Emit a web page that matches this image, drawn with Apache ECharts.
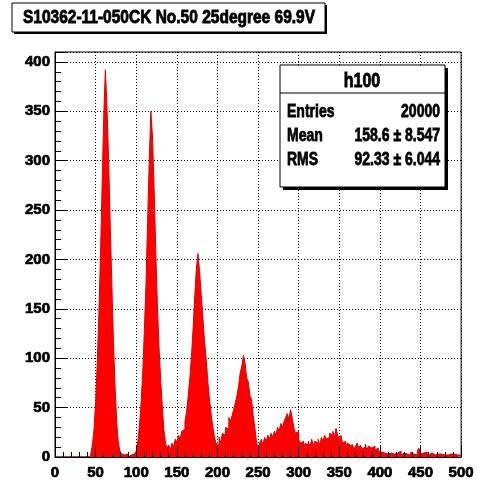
<!DOCTYPE html>
<html>
<head>
<meta charset="utf-8">
<script src="https://cdn.jsdelivr.net/npm/echarts@6/dist/echarts.min.js"></script>
<style>html,body{margin:0;padding:0;background:#fff}#c{width:477px;height:484px}</style>
</head>
<body>
<div id="c"></div>
<script>
// ---- data ----
const titleText = 'S10362-11-050CK No.50 25degree 69.9V';
const histName = 'h100';
const statLabels = ['Entries', 'Mean', 'RMS'];
const statValues = ['20000', '158.6 \u00b1 8.547', '92.33 \u00b1 6.044'];
const binWidth = 2;
const xMin = 0, xMax = 500, yMax = 410;
const xTicks = [0, 50, 100, 150, 200, 250, 300, 350, 400, 450, 500];
const yTicks = [0, 50, 100, 150, 200, 250, 300, 350, 400];
// counts per bin of width 2, starting at 0
const counts = [
  0,0,0,0,0,0,0,0,0,0, 0,0,0,0,0,0,0,0,0,0, 0,0,            // 0-42
  3,12,28,55,95,145,205,275,345,392,                        // 44-62
  355,300,235,175,115,70,35,14,6,3,                         // 64-82
  2,1,3,0,2,1,3,2,                                          // 84-98
  6,16,32,55,85,128,175,238,300,350,                        // 100-118
  325,272,210,155,112,80,52,28,14,9,                        // 120-138
  12,7,14,10,18,15,22,18,26,28,                             // 140-158
  36,46,62,80,102,130,162,190,206,188,                      // 160-178
  165,142,118,100,78,60,45,32,22,14,                        // 180-198
  12,20,14,24,22,30,28,40,36,42,                            // 200-218
  48,55,62,72,85,92,103,95,80,76,                           // 220-238
  62,58,42,30,16,8,14,18,12,20,                             // 240-258
  16,22,18,24,20,26,22,30,26,34,                            // 260-278
  30,36,40,44,38,48,40,30,24,26,                            // 280-298
  18,14,16,10,14,12,16,10,18,12,                            // 300-318
  16,14,18,12,20,16,22,18,20,24,                            // 320-338
  22,26,20,29,22,18,22,14,16,10,                            // 340-358
  14,12,9,13,8,11,14,9,12,8,                                // 360-378
  10,13,7,11,9,8,11,7,9,6,                                  // 380-398
  5,7,4,6,3,5,4,6,3,5,                                      // 400-418
  4,3,6,2,4,5,3,4,2,5,                                      // 420-438
  3,4,2,6,9,3,4,2,5,3,                                      // 440-458
  2,4,3,2,4,3,2,3,4,2,                                      // 460-478
  3,2,4,3,2,3,4,2,3,2                                       // 480-498
];

const stepData = counts.map((c, i) => [xMin + i * binWidth, c]);
stepData.push([xMin + counts.length * binWidth, counts[counts.length - 1]]);

const FONT = '"Liberation Sans", Arial, Helvetica, sans-serif';
const chart = echarts.init(document.getElementById('c'), null, {renderer: 'canvas'});

const gridLeft = 55, gridTop = 52, gridRight = 13, gridBottom = 27;
const heavy = {textBorderColor: '#000', textBorderWidth: 0.7};

const option = {
  backgroundColor: '#fff',
  animation: false,
  grid: {left: gridLeft, right: gridRight, top: gridTop, bottom: gridBottom,
         show: true, borderColor: '#000', borderWidth: 1, backgroundColor: '#fff'},
  xAxis: [
    {type: 'value', min: xMin, max: xMax, interval: 50, z: 10,
     axisLine: {show: true, lineStyle: {color: '#000', width: 1}},
     axisTick: {show: true, inside: true, length: 11, lineStyle: {color: '#000'}},
     minorTick: {show: true, splitNumber: 5, length: 5, lineStyle: {color: '#000'}},
     splitLine: {show: false},
     axisLabel: Object.assign({show: true, margin: 8, color: '#000', fontSize: 15, fontWeight: 'bold', fontFamily: FONT,
       formatter: v => xTicks.indexOf(v) >= 0 ? String(v) : ''}, heavy)},
    {type: 'value', min: xMin, max: xMax, interval: 50, z: 0, position: 'bottom',
     axisLine: {show: false}, axisTick: {show: false}, axisLabel: {show: false},
     splitLine: {show: true, lineStyle: {color: '#000', type: [1, 2], width: 1}}}
  ],
  yAxis: [
    {type: 'value', min: 0, max: yMax, interval: 50, z: 10,
     axisLine: {show: true, lineStyle: {color: '#000', width: 1}},
     axisTick: {show: true, inside: true, length: 12, lineStyle: {color: '#000'}},
     splitLine: {show: false},
     axisLabel: Object.assign({show: true, margin: 5, color: '#000', fontSize: 15, fontWeight: 'bold', fontFamily: FONT,
       formatter: v => yTicks.indexOf(v) >= 0 ? String(v) : ''}, heavy)},
    {type: 'value', min: 0, max: yMax, interval: 10, z: 10, position: 'left',
     axisLine: {show: false},
     axisTick: {show: true, inside: true, length: 6, lineStyle: {color: '#000'}},
     splitLine: {show: false}, axisLabel: {show: false}},
    {type: 'value', min: 0, max: yMax, interval: 50, z: 0, position: 'left',
     axisLine: {show: false}, axisTick: {show: false}, axisLabel: {show: false},
     splitLine: {show: true, lineStyle: {color: '#000', type: [1, 2], width: 1}}}
  ],
  series: [{
    type: 'line', xAxisIndex: 0, yAxisIndex: 0, step: 'end', showSymbol: false, symbol: 'none',
    data: stepData, z: 5,
    lineStyle: {color: '#e00000', width: 1},
    areaStyle: {color: '#ff0000', opacity: 1}
  }],
  graphic: [
    // title box
    {type: 'rect', z: 100, shape: {x: 14, y: 5, width: 313, height: 29}, style: {fill: '#000'}},
    {type: 'rect', z: 101, shape: {x: 12, y: 3, width: 313, height: 29}, style: {fill: '#fff', stroke: '#000', lineWidth: 1}},
    {type: 'text', z: 102, x: 169, y: 18, scaleY: 1.15,
     style: {text: titleText, font: 'bold 15.5px ' + FONT, fill: '#000', stroke: '#000', lineWidth: 0.7, align: 'center', verticalAlign: 'middle'}},
    // stats box
    {type: 'rect', z: 100, shape: {x: 283, y: 68, width: 165, height: 122}, style: {fill: '#000'}},
    {type: 'rect', z: 101, shape: {x: 280, y: 65, width: 165, height: 122}, style: {fill: '#fff', stroke: '#000', lineWidth: 1}},
    {type: 'line', z: 102, shape: {x1: 280, y1: 93, x2: 445, y2: 93}, style: {stroke: '#000', lineWidth: 1}},
    {type: 'text', z: 102, x: 362, y: 81, scaleY: 1.25,
     style: {text: histName, font: 'bold 16px ' + FONT, fill: '#000', stroke: '#000', lineWidth: 0.7, align: 'center', verticalAlign: 'middle'}},
    ...statLabels.map((t, i) => ({type: 'text', z: 102, x: 287, y: 112 + i * 24.3, scaleY: 1.25,
     style: {text: t, font: 'bold 14px ' + FONT, fill: '#000', stroke: '#000', lineWidth: 0.6, align: 'left', verticalAlign: 'middle'}})),
    ...statValues.map((t, i) => ({type: 'text', z: 102, x: 440, y: 112 + i * 24.3, scaleY: 1.25,
     style: {text: t, font: 'bold 14px ' + FONT, fill: '#000', stroke: '#000', lineWidth: 0.6, align: 'right', verticalAlign: 'middle'}}))
  ]
};
chart.setOption(option);
</script>
</body>
</html>
